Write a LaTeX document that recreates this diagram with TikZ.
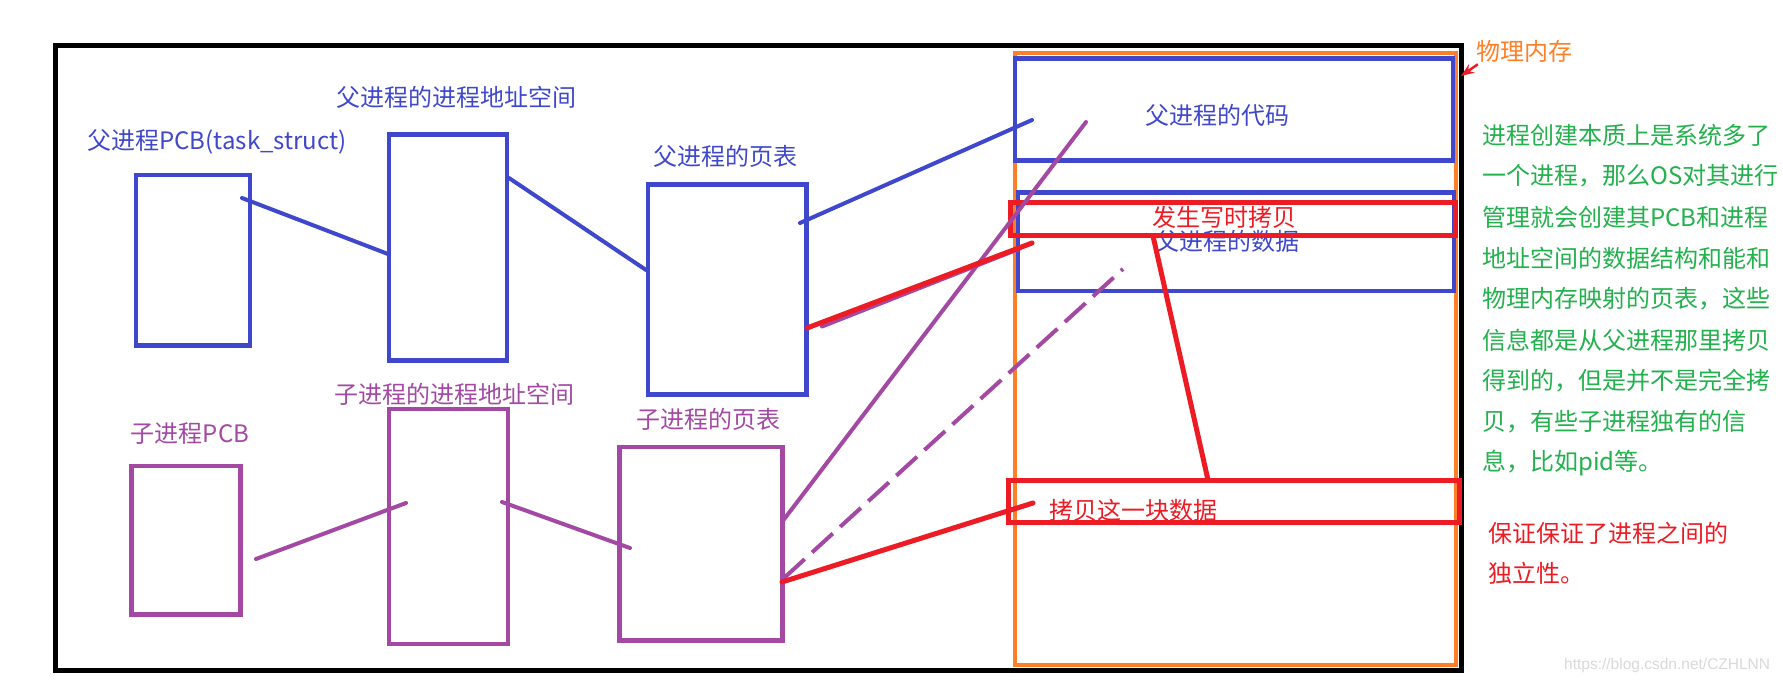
\documentclass[tikz,border=0pt]{standalone}
\usepackage{fontspec}
\setmainfont{Noto Sans CJK SC}
\newfontfamily\markfont{Liberation Sans}
\usepackage{tikz}
\usetikzlibrary{arrows.meta, positioning, calc}
\definecolor{pBlue}{HTML}{3F48CC}
\definecolor{cPurple}{HTML}{A349A4}
\definecolor{cowRed}{HTML}{ED1C24}
\definecolor{memOrange}{HTML}{FF7F27}
\definecolor{noteGreen}{HTML}{22B14C}
\tikzset{
  box/.style={draw, rectangle, inner sep=0pt, outer sep=0pt},
  pbox/.style={box, draw=pBlue, line width=4.5pt},
  cbox/.style={box, draw=cPurple, line width=4.5pt},
  rbox/.style={box, draw=cowRed, line width=5pt},
  lbl/.style={inner sep=0pt, font=\fontsize{24}{28}\selectfont},
  link/.style={line width=4pt, line cap=round},
}

\begin{document}
\begin{tikzpicture}[x=1pt, y=-1pt]
  \useasboundingbox (0,0) rectangle (1783,684);
  \fill[white] (0,0) rectangle (1783,684);
  \draw[line width=5pt] (55.5,46) rectangle (1461,670.5);
  \node[box, draw=memOrange, line width=4pt, minimum width=441.5, minimum height=612] (mem) at (1235.25,359) {};

  \node[pbox, minimum width=114, minimum height=170.5] (ppcb) at (193,260.25) {};
  \node[pbox, minimum width=118, minimum height=226] (paddr) at (448,247.5) {};
  \node[pbox, minimum width=158.5, minimum height=210] (ppt) at (727.25,289.5) {};
  \node[cbox, minimum width=109, minimum height=148.5] (cpcb) at (186,540.25) {};
  \node[cbox, minimum width=119, minimum height=235] (caddr) at (448.5,526.5) {};
  \node[cbox, minimum width=163, minimum height=193.5] (cpt) at (701,543.75) {};
  \node[pbox, minimum width=438, minimum height=102] (code) at (1234,109.5) {};
  \node[pbox, minimum width=436, minimum height=98.5] (data) at (1236,241.75) {};

  \node[lbl, text=pBlue] (ppcb-t) at (217,142) {父进程PCB(task\_struct)};
  \node[lbl, text=pBlue] (paddr-t) at (456.5,97) {父进程的进程地址空间};
  \node[lbl, text=pBlue] (ppt-t) at (725,156) {父进程的页表};
  \node[lbl, text=cPurple] (cpcb-t) at (190,434) {子进程PCB};
  \node[lbl, text=cPurple] (caddr-t) at (454.5,394) {子进程的进程地址空间};
  \node[lbl, text=cPurple] (cpt-t) at (708,419) {子进程的页表};
  \node[lbl, text=pBlue] (code-t) at (1217,115) {父进程的代码};
  \node[lbl, text=pBlue] (data-t) at (1227,241) {父进程的数据};

  \node[rbox, minimum width=444.5, minimum height=33] (cow) at (1232.75,219) {};
  \node[rbox, minimum width=451, minimum height=41.5] (copyblk) at (1234,501.25) {};
  \node[lbl, text=cowRed] (cow-t) at (1224,217.5) {发生写时拷贝};
  \node[lbl, text=cowRed] (copyblk-t) at (1133,510) {拷贝这一块数据};
  \node[lbl, text=memOrange] (mem-t) at (1524,51) {物理内存};

  \coordinate (pa1) at (242,198);  \coordinate (pa2) at (388,254);
  \coordinate (pb1) at (509,178);  \coordinate (pb2) at (646,270);
  \coordinate (pc1) at (800,223);  \coordinate (pc2) at (1032,120);
  \coordinate (pd1) at (822,326.5);  \coordinate (pd2) at (1020,248.5);
  \coordinate (pe1) at (807,328);  \coordinate (pe2) at (1032,243);
  \coordinate (ci1) at (256,559);  \coordinate (ci2) at (406,503);
  \coordinate (cj1) at (502,502);  \coordinate (cj2) at (630,548);
  \coordinate (cf1) at (782,522);  \coordinate (cf2) at (1086,122);
  \coordinate (cg1) at (784,578);  \coordinate (cg2) at (1123,269);
  \coordinate (ch1) at (782,582);  \coordinate (ch2) at (1033,503);
  \coordinate (ck1) at (1153,236); \coordinate (ck2) at (1208,480);

  \draw[link, pBlue] (pa1) -- (pa2);
  \draw[link, pBlue] (pb1) -- (pb2);
  \draw[link, pBlue] (pc1) -- (pc2);
  \draw[link, cPurple] (pd1) -- (pd2);
  \draw[link, cPurple] (ci1) -- (ci2);
  \draw[link, cPurple] (cj1) -- (cj2);
  \draw[link, cPurple] (cf1) -- (cf2);
  \draw[link, cPurple, line cap=butt, dash pattern=on 28pt off 10pt] (cg1) -- (cg2);
  \draw[link, cowRed, line width=5pt] (pe1) -- (pe2);
  \draw[link, cowRed, line width=5pt] (ch1) -- (ch2);
  \draw[link, cowRed, line width=5pt] (ck1) -- (ck2);
  \draw[cowRed, line width=2.5pt, -{Stealth[length=13pt, width=10pt]}] (mem-t.south west) ++(2,2) -- (1461,76);

  \foreach \txt [count=\i from 0] in {进程创建本质上是系统多了, 一个进程，那么OS对其进行, 管理就会创建其PCB和进程, 地址空间的数据结构和能和, 物理内存映射的页表，这些, 信息都是从父进程那里拷贝, 得到的，但是并不是完全拷, 贝，有些子进程独有的信, 息，比如pid等。}
    \node[lbl, text=noteGreen, anchor=west] (note\i) at (1482,{135+41*\i}) {\txt};
  \node[lbl, text=cowRed, anchor=west] (indep1) at (1488,533) {保证保证了进程之间的};
  \node[lbl, text=cowRed, anchor=west] (indep2) at (1488,573) {独立性。};
  \node[anchor=west, inner sep=0pt, text=black!15, font=\markfont\fontsize{15.5}{18}\selectfont] (mark) at (1564,665) {https://blog.csdn.net/CZHLNN};
\end{tikzpicture}
\end{document}
